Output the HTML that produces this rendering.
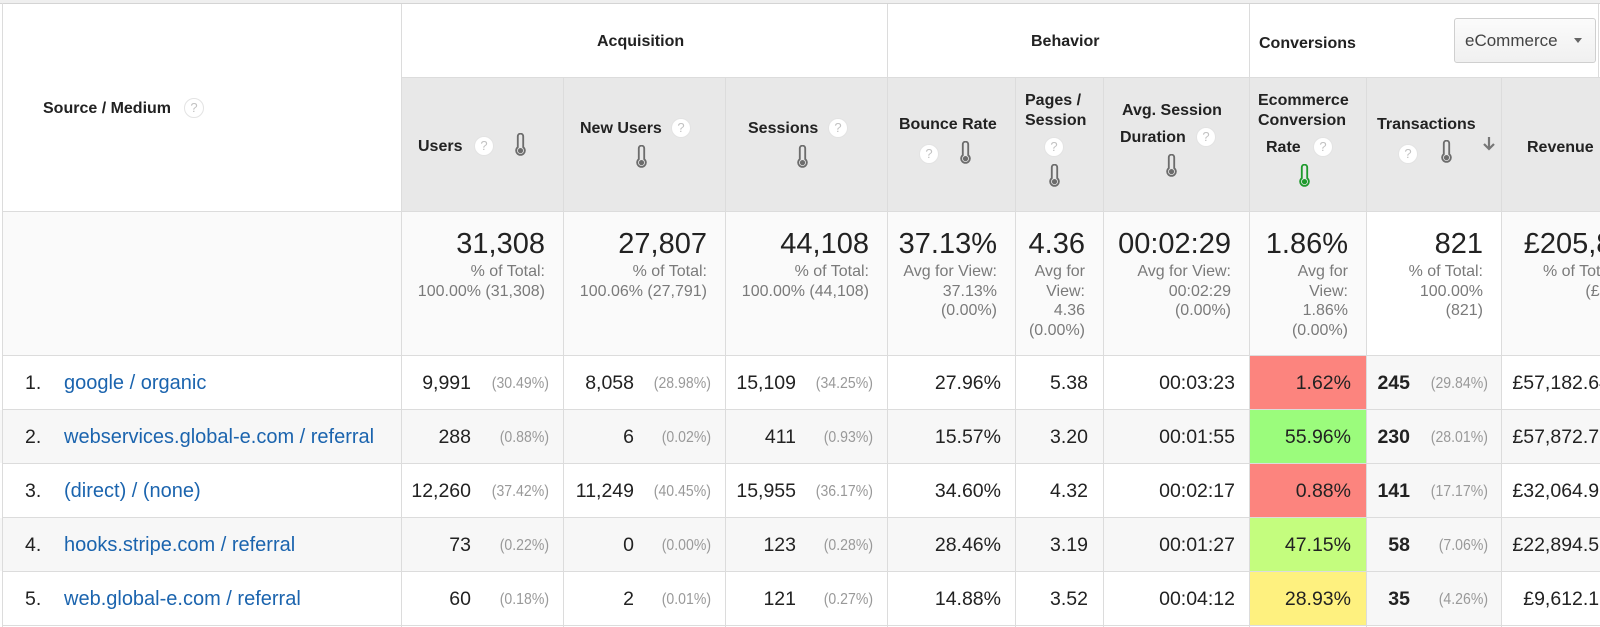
<!DOCTYPE html>
<html><head><meta charset="utf-8"><style>
body{margin:0;background:#fff}
#c{position:relative;width:1600px;height:627px;overflow:hidden;background:#fff;font-family:"Liberation Sans",Arial,sans-serif;color:#212121}
.a{position:absolute}
.h{position:absolute;height:1px;background:#dcdcdc}
.v{position:absolute;width:1px;background:#dcdcdc}
.hd{position:absolute;font-weight:bold;font-size:16px;line-height:20px;white-space:nowrap;color:#222}
.q{position:absolute;width:20px;height:20px;border-radius:50%;background:#fff;border:1px solid #e3e3e3;box-sizing:border-box;font-size:13px;line-height:18px;text-align:center;color:#c2c2c2}
.th{position:absolute;width:13px;height:24px}
.r{position:absolute;left:0;width:1600px;height:24px}
.d{position:absolute;top:0;font-size:19.5px;line-height:24px;white-space:nowrap;text-align:right;color:#222}
.p{position:absolute;top:0;font-size:16px;line-height:25px;white-space:nowrap;color:#999;text-align:right;transform:scaleX(0.88);transform-origin:right center}
.n{position:absolute;top:0;left:25px;font-size:19.5px;line-height:24px;color:#222}
.lk{position:absolute;top:0;left:64px;font-size:20px;line-height:24px;color:#1b64ae;white-space:nowrap}
.bd{font-weight:bold}
.c1v{right:1129px}.c1p{right:1051px}.c2v{right:966px}.c2p{right:889px}.c3v{right:804px}.c3p{right:727px}
.c4{right:599px}.c5{right:512px}.c6{right:365px}.c7{right:249px}.c8v{right:190px}.c8p{right:112px}.c9{right:-10px}
.tot{position:absolute;top:227px;text-align:right;white-space:nowrap}
.tot b{display:block;font-weight:normal;font-size:29px;line-height:35px;color:#222}
.tot span{display:block;font-size:16px;line-height:19.6px;color:#7a7a7a}
</style></head><body><div id="c">

<!-- backgrounds -->
<div class="a" style="left:0;top:0;width:1600px;height:3px;background:#efefef"></div>
<div class="a" style="left:402px;top:78px;width:1198px;height:133px;background:#e8e8e8"></div>
<div class="a" style="left:3px;top:212px;width:1597px;height:143px;background:#fafafa"></div>
<div class="a" style="left:1367px;top:212px;width:134px;height:143px;background:#fff"></div>
<div class="a" style="left:0;top:410px;width:1600px;height:53px;background:#f7f7f7"></div>
<div class="a" style="left:0;top:518px;width:1600px;height:53px;background:#f7f7f7"></div>
<div class="a" style="left:1367px;top:356px;width:134px;height:270px;background:#f7f7f7"></div>
<!-- heat cells -->
<div class="a" style="left:1250px;top:356px;width:116px;height:53px;background:#fc847e"></div>
<div class="a" style="left:1250px;top:410px;width:116px;height:53px;background:#9bfc7c"></div>
<div class="a" style="left:1250px;top:464px;width:116px;height:53px;background:#fc847e"></div>
<div class="a" style="left:1250px;top:518px;width:116px;height:53px;background:#c4fd7e"></div>
<div class="a" style="left:1250px;top:572px;width:116px;height:53px;background:#fef17f"></div>

<!-- grid lines -->
<div class="h" style="left:0;top:3px;width:1600px;background:#d4d4d4"></div>
<div class="h" style="left:401px;top:77px;width:1199px"></div>
<div class="h" style="left:2px;top:211px;width:1598px"></div>
<div class="h" style="left:2px;top:355px;width:1598px"></div>
<div class="h" style="left:2px;top:409px;width:1598px"></div>
<div class="h" style="left:2px;top:463px;width:1598px"></div>
<div class="h" style="left:2px;top:517px;width:1598px"></div>
<div class="h" style="left:2px;top:571px;width:1598px"></div>
<div class="h" style="left:2px;top:625px;width:1598px"></div>
<div class="v" style="left:2px;top:3px;height:624px"></div>
<div class="v" style="left:401px;top:4px;height:623px"></div>
<div class="v" style="left:563px;top:77px;height:550px"></div>
<div class="v" style="left:725px;top:77px;height:550px"></div>
<div class="v" style="left:887px;top:4px;height:623px"></div>
<div class="v" style="left:1015px;top:77px;height:550px"></div>
<div class="v" style="left:1103px;top:77px;height:550px"></div>
<div class="v" style="left:1249px;top:4px;height:623px"></div>
<div class="v" style="left:1366px;top:77px;height:550px"></div>
<div class="v" style="left:1501px;top:77px;height:550px"></div>
<div class="v" style="left:1598px;top:4px;height:73px"></div>

<!-- group header -->
<div class="hd" style="left:43px;top:99px">Source / Medium</div>
<div class="q" style="left:184px;top:98px">?</div>
<div class="hd" style="left:597px;top:32px">Acquisition</div>
<div class="hd" style="left:1031px;top:32px">Behavior</div>
<div class="hd" style="left:1259px;top:34px">Conversions</div>
<div class="a" style="left:1454px;top:18px;width:142px;height:45px;border:1px solid #cfcfcf;border-radius:3px;box-sizing:border-box;background:linear-gradient(#fbfbfb,#f0f0f0)"></div>
<div class="a" style="left:1465px;top:31px;font-size:17px;line-height:20px;color:#444;white-space:nowrap">eCommerce</div>
<div class="a" style="left:1574px;top:38px;width:0;height:0;border-left:4.5px solid transparent;border-right:4.5px solid transparent;border-top:5px solid #666"></div>

<!-- sub header -->
<div class="hd" style="left:418px;top:137px">Users</div>
<div class="q" style="left:474px;top:136px">?</div>
<svg class="th" style="left:514px;top:133px" viewBox="0 0 12 22"><path d="M3.5 3a2.5 2.5 0 0 1 5 0v10a4 4 0 1 1-5 0z" fill="none" stroke="#6c6c6c" stroke-width="1.7"/><circle cx="6" cy="16.2" r="2.4" fill="#6c6c6c"/></svg>

<div class="hd" style="left:580px;top:119px">New Users</div>
<div class="q" style="left:671px;top:118px">?</div>
<svg class="th" style="left:635px;top:145px" viewBox="0 0 12 22"><path d="M3.5 3a2.5 2.5 0 0 1 5 0v10a4 4 0 1 1-5 0z" fill="none" stroke="#6c6c6c" stroke-width="1.7"/><circle cx="6" cy="16.2" r="2.4" fill="#6c6c6c"/></svg>

<div class="hd" style="left:748px;top:119px">Sessions</div>
<div class="q" style="left:828px;top:118px">?</div>
<svg class="th" style="left:796px;top:145px" viewBox="0 0 12 22"><path d="M3.5 3a2.5 2.5 0 0 1 5 0v10a4 4 0 1 1-5 0z" fill="none" stroke="#6c6c6c" stroke-width="1.7"/><circle cx="6" cy="16.2" r="2.4" fill="#6c6c6c"/></svg>

<div class="hd" style="left:899px;top:115px">Bounce Rate</div>
<div class="q" style="left:919px;top:144px">?</div>
<svg class="th" style="left:959px;top:141px" viewBox="0 0 12 22"><path d="M3.5 3a2.5 2.5 0 0 1 5 0v10a4 4 0 1 1-5 0z" fill="none" stroke="#6c6c6c" stroke-width="1.7"/><circle cx="6" cy="16.2" r="2.4" fill="#6c6c6c"/></svg>

<div class="hd" style="left:1025px;top:91px">Pages /</div>
<div class="hd" style="left:1025px;top:111px">Session</div>
<div class="q" style="left:1044px;top:137px">?</div>
<svg class="th" style="left:1048px;top:164px" viewBox="0 0 12 22"><path d="M3.5 3a2.5 2.5 0 0 1 5 0v10a4 4 0 1 1-5 0z" fill="none" stroke="#6c6c6c" stroke-width="1.7"/><circle cx="6" cy="16.2" r="2.4" fill="#6c6c6c"/></svg>

<div class="hd" style="left:1122px;top:101px">Avg. Session</div>
<div class="hd" style="left:1120px;top:128px">Duration</div>
<div class="q" style="left:1196px;top:127px">?</div>
<svg class="th" style="left:1165px;top:154px" viewBox="0 0 12 22"><path d="M3.5 3a2.5 2.5 0 0 1 5 0v10a4 4 0 1 1-5 0z" fill="none" stroke="#6c6c6c" stroke-width="1.7"/><circle cx="6" cy="16.2" r="2.4" fill="#6c6c6c"/></svg>

<div class="hd" style="left:1258px;top:91px">Ecommerce</div>
<div class="hd" style="left:1258px;top:111px">Conversion</div>
<div class="hd" style="left:1266px;top:138px">Rate</div>
<div class="q" style="left:1313px;top:137px">?</div>
<svg class="th" style="left:1298px;top:164px" viewBox="0 0 12 22"><path d="M3.5 3a2.5 2.5 0 0 1 5 0v10a4 4 0 1 1-5 0z" fill="none" stroke="#1e9a2c" stroke-width="1.7"/><circle cx="6" cy="16.2" r="2.4" fill="#1e9a2c"/></svg>

<div class="hd" style="left:1377px;top:115px">Transactions</div>
<div class="q" style="left:1398px;top:144px">?</div>
<svg class="th" style="left:1440px;top:140px" viewBox="0 0 12 22"><path d="M3.5 3a2.5 2.5 0 0 1 5 0v10a4 4 0 1 1-5 0z" fill="none" stroke="#6c6c6c" stroke-width="1.7"/><circle cx="6" cy="16.2" r="2.4" fill="#6c6c6c"/></svg>
<svg class="a" style="left:1482px;top:136px" width="14" height="16" viewBox="0 0 14 16"><path d="M7 1v12M2 8l5 5 5-5" stroke="#777" stroke-width="2.2" fill="none"/></svg>

<div class="hd" style="left:1527px;top:138px">Revenue</div>

<!-- totals -->
<div class="tot" style="right:1055px"><b>31,308</b><span>% of Total:</span><span>100.00% (31,308)</span></div>
<div class="tot" style="right:893px"><b>27,807</b><span>% of Total:</span><span>100.06% (27,791)</span></div>
<div class="tot" style="right:731px"><b>44,108</b><span>% of Total:</span><span>100.00% (44,108)</span></div>
<div class="tot" style="right:603px"><b>37.13%</b><span>Avg for View:</span><span>37.13%</span><span>(0.00%)</span></div>
<div class="tot" style="right:515px"><b>4.36</b><span>Avg for</span><span>View:</span><span>4.36</span><span>(0.00%)</span></div>
<div class="tot" style="right:369px"><b>00:02:29</b><span>Avg for View:</span><span>00:02:29</span><span>(0.00%)</span></div>
<div class="tot" style="right:252px"><b>1.86%</b><span>Avg for</span><span>View:</span><span>1.86%</span><span>(0.00%)</span></div>
<div class="tot" style="right:117px"><b>821</b><span>% of Total:</span><span>100.00%</span><span>(821)</span></div>
<div class="tot" style="right:-85px"><b>£205,812.34</b><span>% of Total: 100.00%</span><span>(£205,812.34)</span></div>

<!-- rows -->
<div class="r" style="top:371px">
<span class="n">1.</span><span class="lk">google / organic</span>
<span class="d c1v">9,991</span><span class="p c1p">(30.49%)</span>
<span class="d c2v">8,058</span><span class="p c2p">(28.98%)</span>
<span class="d c3v">15,109</span><span class="p c3p">(34.25%)</span>
<span class="d c4">27.96%</span><span class="d c5">5.38</span><span class="d c6">00:03:23</span><span class="d c7">1.62%</span>
<span class="d c8v bd">245</span><span class="p c8p">(29.84%)</span>
<span class="d c9">£57,182.64</span>
</div>
<div class="r" style="top:425px">
<span class="n">2.</span><span class="lk">webservices.global-e.com / referral</span>
<span class="d c1v">288</span><span class="p c1p">(0.88%)</span>
<span class="d c2v">6</span><span class="p c2p">(0.02%)</span>
<span class="d c3v">411</span><span class="p c3p">(0.93%)</span>
<span class="d c4">15.57%</span><span class="d c5">3.20</span><span class="d c6">00:01:55</span><span class="d c7">55.96%</span>
<span class="d c8v bd">230</span><span class="p c8p">(28.01%)</span>
<span class="d c9">£57,872.75</span>
</div>
<div class="r" style="top:479px">
<span class="n">3.</span><span class="lk">(direct) / (none)</span>
<span class="d c1v">12,260</span><span class="p c1p">(37.42%)</span>
<span class="d c2v">11,249</span><span class="p c2p">(40.45%)</span>
<span class="d c3v">15,955</span><span class="p c3p">(36.17%)</span>
<span class="d c4">34.60%</span><span class="d c5">4.32</span><span class="d c6">00:02:17</span><span class="d c7">0.88%</span>
<span class="d c8v bd">141</span><span class="p c8p">(17.17%)</span>
<span class="d c9">£32,064.91</span>
</div>
<div class="r" style="top:533px">
<span class="n">4.</span><span class="lk">hooks.stripe.com / referral</span>
<span class="d c1v">73</span><span class="p c1p">(0.22%)</span>
<span class="d c2v">0</span><span class="p c2p">(0.00%)</span>
<span class="d c3v">123</span><span class="p c3p">(0.28%)</span>
<span class="d c4">28.46%</span><span class="d c5">3.19</span><span class="d c6">00:01:27</span><span class="d c7">47.15%</span>
<span class="d c8v bd">58</span><span class="p c8p">(7.06%)</span>
<span class="d c9">£22,894.52</span>
</div>
<div class="r" style="top:587px">
<span class="n">5.</span><span class="lk">web.global-e.com / referral</span>
<span class="d c1v">60</span><span class="p c1p">(0.18%)</span>
<span class="d c2v">2</span><span class="p c2p">(0.01%)</span>
<span class="d c3v">121</span><span class="p c3p">(0.27%)</span>
<span class="d c4">14.88%</span><span class="d c5">3.52</span><span class="d c6">00:04:12</span><span class="d c7">28.93%</span>
<span class="d c8v bd">35</span><span class="p c8p">(4.26%)</span>
<span class="d c9">£9,612.18</span>
</div>

</div></body></html>
